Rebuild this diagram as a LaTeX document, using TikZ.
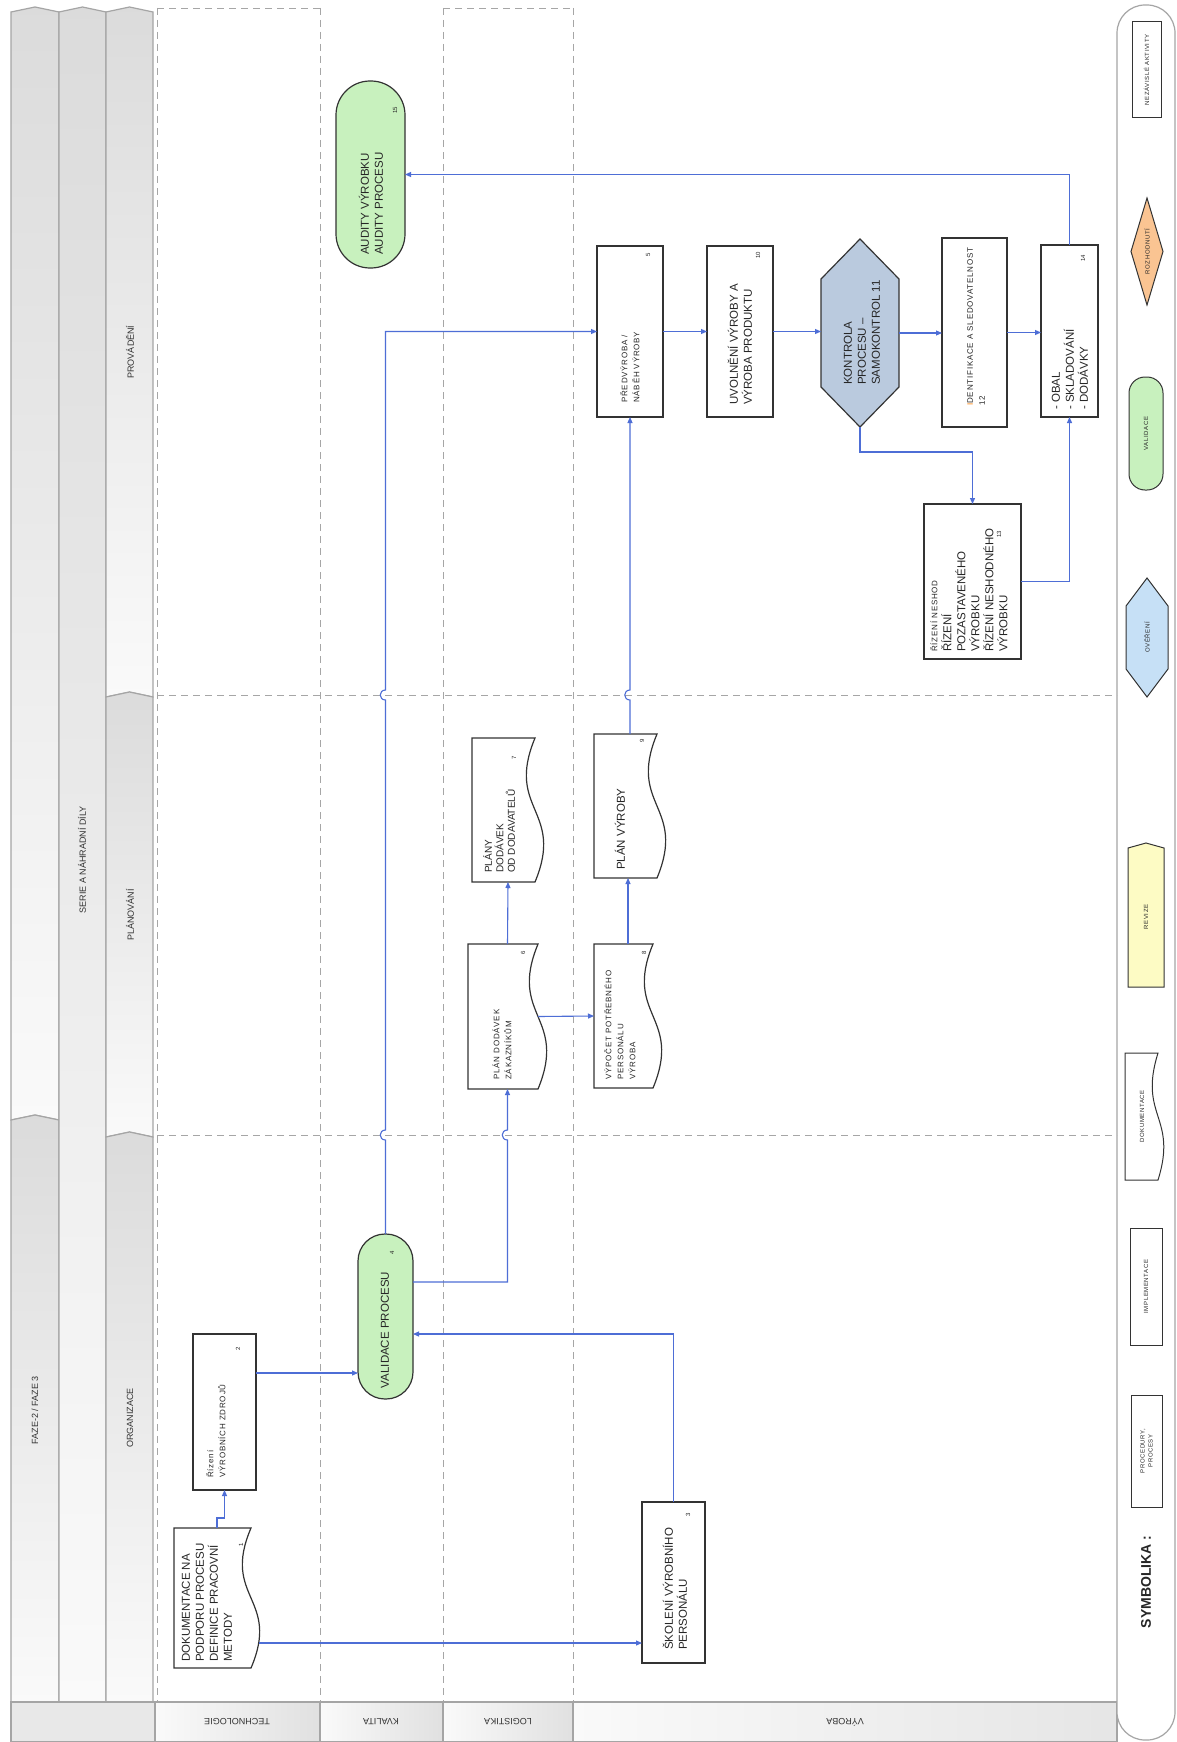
\documentclass[tikz,border=0pt]{standalone}
\usepackage{fontspec}
\setmainfont{Liberation Sans}
\newfontfamily\spacedfont[LetterSpace=10]{Liberation Sans}
\usetikzlibrary{arrows.meta,calc}
\definecolor{linkblue}{RGB}{78,110,214}
\definecolor{valgreen}{RGB}{200,241,190}
\definecolor{decorange}{RGB}{250,196,146}
\definecolor{verblue}{RGB}{198,224,246}
\definecolor{ctrlblue}{RGB}{186,202,222}
\definecolor{revyellow}{RGB}{253,251,196}
\definecolor{hdrline}{RGB}{165,165,165}
\newcommand{\hseg}[5]{\draw[hline, top color=black!14, bottom color=black!2] (#1,#3) -- ({(#1+#2)/2},{#3-5}) -- (#2,#3) -- (#2,#4) -- ({(#1+#2)/2},{#4-#5}) -- (#1,#4) -- cycle;}
\newcommand{\docshape}[5]{%
  \node[inner sep=0pt, outer sep=0pt, minimum width={#3+9-#2}, minimum height={#5-#4}] (#1) at ({(#2+#3+9)/2},{(#4+#5)/2}) {};
  \draw[box] (#2,#4) -- (#3,#4) .. controls ({#3-30},{(#4+#5)/2}) and ({#3+30},{(#4+#5)/2}) .. (#3,#5) -- (#2,#5) -- cycle;}
\begin{document}
\begin{tikzpicture}[x=1pt,y=-1pt,
  box/.style={draw=black!80, line width=1.2pt, fill=white, inner sep=0pt, outer sep=0pt},
  conn/.style={draw=linkblue, line width=1.1pt, -{Triangle[length=6pt,width=5pt]}},
  lane/.style={draw=black!35, line width=0.9pt, dash pattern=on 7pt off 5pt},
  hline/.style={draw=hdrline, line width=1.2pt},
  tmain/.style={font=\fontsize{11.5}{14}\selectfont, rotate=90, anchor=west, align=left, inner sep=0pt, text=black!85},
  tsmall/.style={font=\spacedfont\fontsize{8}{12}\selectfont, rotate=90, anchor=west, align=left, inner sep=0pt, text=black!85},
  tnum/.style={font=\fontsize{6}{7}\selectfont, rotate=90, inner sep=0pt, text=black!85},
  thdr/.style={font=\fontsize{9}{11}\selectfont, rotate=90, inner sep=0pt, text=black!80},
  tbot/.style={font=\fontsize{9}{11}\selectfont, rotate=180, inner sep=0pt, text=black!80},
  tleg/.style={font=\spacedfont\fontsize{6}{8}\selectfont, rotate=90, inner sep=0pt, align=center, text=black!85},
  hop/.style={insert path={-- ($(#1)+(0,5)$) .. controls ($(#1)+(-7,5)$) and ($(#1)+(-7,-5)$) .. ($(#1)+(0,-5)$)}}
]
\useasboundingbox (0,0) rectangle (1176,1742);
\fill[white] (0,0) rectangle (1176,1742);

% header columns
\hseg{11}{59}{12}{1120}{5}
\hseg{11}{59}{1120}{1702}{0}
\hseg{59}{106}{12}{1702}{0}
\hseg{106}{153}{12}{697}{5}
\hseg{106}{153}{697}{1137}{5}
\hseg{106}{153}{1137}{1702}{0}

% bottom row
\draw[hline, fill=black!9] (11,1702) rectangle (155,1742);
\draw[hline, left color=black!2, right color=black!12] (155,1702) rectangle (320,1742);
\draw[hline, left color=black!2, right color=black!12] (320,1702) rectangle (443,1742);
\draw[hline, left color=black!2, right color=black!12] (443,1702) rectangle (573,1742);
\draw[hline, left color=black!2, right color=black!10] (573,1702) rectangle (1117,1742);

% legend column
\draw[hline, fill=white, rounded corners=28pt] (1117,5) rectangle (1175,1740);

% lanes
\draw[lane] (157,8) -- (320,8);
\draw[lane] (443,8) -- (573,8);
\draw[lane] (157,695) -- (1117,695);
\draw[lane] (157,1135) -- (1117,1135);
\draw[lane] (157,8) -- (157,1702);
\draw[lane] (320,8) -- (320,1702);
\draw[lane] (443,8) -- (443,1702);
\draw[lane] (573,8) -- (573,1702);

% shapes
\docshape{n1}{174}{251}{1528}{1668}
\node[box, minimum width=63, minimum height=156] (n2) at (224.5,1412) {};
\node[box, minimum width=63, minimum height=161] (n3) at (673.5,1582.5) {};
\node[box, fill=valgreen, rounded corners=27pt, minimum width=55, minimum height=165] (n4) at (385.5,1316.5) {};
\node[box, minimum width=66, minimum height=171] (n5) at (630,331.5) {};
\docshape{n6}{468}{538}{944}{1089}
\docshape{n7}{472}{535}{738}{882}
\docshape{n8}{594}{653}{944}{1088}
\docshape{n9}{594}{657}{734}{878}
\node[box, minimum width=66, minimum height=171] (n10) at (740,331.5) {};
\node[inner sep=0pt, outer sep=0pt, minimum width=78, minimum height=188] (n11) at (860,333) {};
\draw[box, fill=ctrlblue] (821,279) -- (860,239) -- (899,279) -- (899,387) -- (860,427) -- (821,387) -- cycle;
\node[box, minimum width=65, minimum height=189] (n12) at (974.5,332.5) {};
\node[box, minimum width=97, minimum height=155] (n13) at (972.5,581.5) {};
\node[box, minimum width=57, minimum height=172] (n14) at (1069.5,331) {};
\node[box, fill=valgreen, rounded corners=34pt, minimum width=69, minimum height=187] (n15) at (370.5,174.5) {};

% hop points
\coordinate (dA) at (0,695);
\coordinate (dB) at (0,1135);
\coordinate (hp1) at (n4.north |- dB);
\coordinate (hp2) at (n4.north |- dA);
\coordinate (hp3) at (n6.south |- dB);
\coordinate (hp4) at (n9.north |- dA);

% connectors
\draw[conn] (n1.north) -- ++(0,-10) -| (n2.south);
\draw[conn] ($(n1.east)+(-1,45)$) coordinate (p2) -- (p2 -| n3.west);
\draw[conn] ($(n2.east)+(0,-39)$) coordinate (p3) -- (p3 -| n4.west);
\draw[conn] (n3.north) |- ($(n4.east)+(0,17.5)$);
\draw[conn] ($(n4.east)+(0,-34.5)$) -| ($(hp3)+(0,5)$) [hop=hp3] -- (n6.south);
\draw[conn] (n4.north) [hop=hp1] [hop=hp2] |- (n5.west);
\draw[conn] (n6.north) -- (n7.south);
\draw[conn] ($(n6.east)+(-9,0)$) -- (n8.west);
\draw[conn] (n8.north) -- (n8.north |- n9.south);
\draw[conn] (n9.north) [hop=hp4] -- (n5.south);
\draw[conn] (n5.east) -- (n10.west);
\draw[conn] (n10.east) -- (n10.east -| n11.west);
\draw[conn] (n11.east) -- (n11.east -| n12.west);
\draw[conn] (n12.east) -- (n12.east -| n14.west);
\draw[conn] (n11.south) -- ++(0,25) -| (n13.north);
\draw[conn] (n13.east) -| (n14.south);
\draw[conn] (n14.north) |- (n15.east);

% texts
\node[tmain] (t1) at (207,1662) {DOKUMENTACE NA\\PODPORU PROCESU\\DEFINICE PRACOVNÍ\\METODY};
\node[tnum] (t1n) at (241,1545) {1};
\node[tsmall] (t2) at (216,1478) {Řízení\\VÝROBNÍCH ZDROJŮ};
\node[tnum] (t2n) at (238,1349) {2};
\node[tmain] (t3) at (675,1650) {ŠKOLENÍ VÝROBNÍHO\\PERSONÁLU};
\node[tnum] (t3n) at (688,1515) {3};
\node[tmain, anchor=center] (t4) at (385,1330) {VALIDACE PROCESU};
\node[tnum] (t4n) at (392,1253) {4};
\node[tsmall] (t5) at (630,403) {PŘEDVÝROBA /\\NÁBĚH VÝROBY};
\node[tnum] (t5n) at (648,255) {5};
\node[tsmall] (t6) at (502,1080) {PLÁN DODÁVEK\\ZÁKAZNÍKŮM};
\node[tnum] (t6n) at (523,953) {6};
\node[tmain, font=\fontsize{10}{11.5}\selectfont] (t7) at (499,873) {PLÁNY\\DODÁVEK\\OD DODAVATELŮ};
\node[tnum] (t7n) at (514,758) {7};
\node[tsmall] (t8) at (620,1080) {VÝPOČET POTŘEBNÉHO\\PERSONÁLU\\VÝROBA};
\node[tnum] (t8n) at (644,953) {8};
\node[tmain] (t9) at (620,870) {PLÁN VÝROBY};
\node[tnum] (t9n) at (642,741) {9};
\node[tmain] (t10) at (740,405) {UVOLNĚNÍ VÝROBY A\\VÝROBA PRODUKTU};
\node[tnum] (t10n) at (758,255) {10};
\node[tmain] (t11) at (862,385) {KONTROLA\\PROCESU –\\SAMOKONTROL 11};
\node[tsmall] (t12) at (976,406) {{\color{orange}I}DENTIFIKACE A SLEDOVATELNOST\\12};
\node[tmain] (t13) at (969,652) {{\spacedfont\fontsize{8}{12}\selectfont ŘÍZENÍ NESHOD}\\ŘÍZENÍ\\POZASTAVENÉHO\\VÝROBKU\\ŘÍZENÍ NESHODNÉHO\\VÝROBKU};
\node[tnum] (t13n) at (999,534) {13};
\node[tmain] (t14) at (1070,410) {- OBAL\\- SKLADOVÁNÍ\\- DODÁVKY};
\node[tnum] (t14n) at (1083,258) {14};
\node[tmain] (t15) at (371,255) {AUDITY VÝROBKU\\AUDITY PROCESU};
\node[tnum] (t15n) at (395,110) {15};

% header labels
\node[thdr] (h1) at (35,1410) {FAZE-2 / FAZE 3};
\node[thdr] (h2) at (82,860) {SERIE A NÁHRADNÍ DÍLY};
\node[thdr] (h3) at (130,352) {PROVÁDĚNÍ};
\node[thdr] (h4) at (130,915) {PLÁNOVÁNÍ};
\node[thdr] (h5) at (130,1418) {ORGANIZACE};
\node[tbot] (b1) at (237,1722) {TECHNOLOGIE};
\node[tbot] (b2) at (381,1722) {KVALITA};
\node[tbot] (b3) at (508,1722) {LOGISTIKA};
\node[tbot] (b4) at (845,1722) {VÝROBA};

% legend
\node[box, line width=1pt, minimum width=29, minimum height=96] (l1) at (1146.5,70) {};
\node[tleg] (l1t) at (1146.5,70) {NEZÁVISLÉ AKTIVITY};
\draw[box, line width=1pt, fill=decorange] (1147,198) -- (1163,251.5) -- (1147,305) -- (1131,251.5) -- cycle;
\node[tleg] (l2t) at (1147,251.5) {ROZHODNUTÍ};
\node[box, line width=1pt, fill=valgreen, rounded corners=16pt, minimum width=34, minimum height=113] (l3) at (1146,433.5) {};
\node[tleg] (l3t) at (1146,433.5) {VALIDACE};
\draw[box, line width=1pt, fill=verblue] (1126,606) -- (1147,578) -- (1168,606) -- (1168,669) -- (1147,697) -- (1126,669) -- cycle;
\node[tleg] (l4t) at (1147,637.5) {OVĚŘENÍ};
\draw[box, line width=1pt, fill=revyellow] (1128,848) -- (1146,843) -- (1164,848) -- (1164,987) -- (1128,987) -- cycle;
\node[tleg] (l5t) at (1146,917) {REVIZE};
\draw[box, line width=1pt] (1125,1053) -- (1158,1053) .. controls (1138,1116.5) and (1178,1116.5) .. (1158,1180) -- (1125,1180) -- cycle;
\node[tleg] (l6t) at (1142,1116.5) {DOKUMENTACE};
\node[box, line width=1pt, minimum width=32, minimum height=117] (l7) at (1146,1286.5) {};
\node[tleg] (l7t) at (1146,1286.5) {IMPLEMENTACE};
\node[box, line width=1pt, minimum width=31, minimum height=112] (l8) at (1146.5,1451) {};
\node[tleg] (l8t) at (1146.5,1451) {PROCEDURY,\\PROCESY};
\node[font=\bfseries\fontsize{14}{16}\selectfont, rotate=90, inner sep=0pt, text=black!85] (l9) at (1146,1582) {SYMBOLIKA :};
\end{tikzpicture}
\end{document}
